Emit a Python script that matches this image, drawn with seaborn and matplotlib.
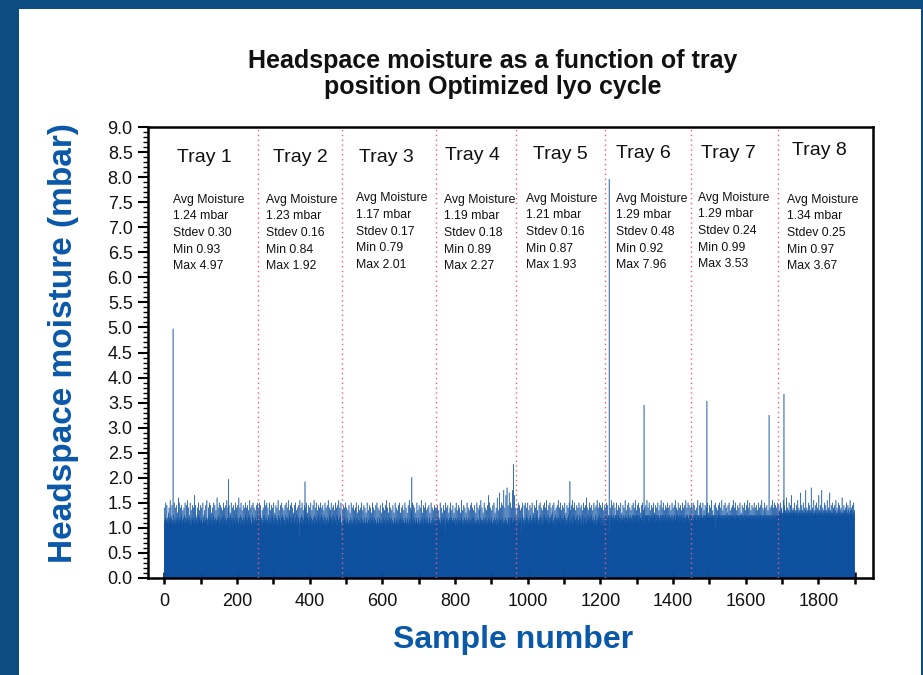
import pandas as pd
import seaborn as sns
import matplotlib.pyplot as plt
from matplotlib.patches import Rectangle
from matplotlib.ticker import MultipleLocator, FuncFormatter

# Per-sample moisture, one character per vial: value = 0.80 + 0.05 * position in CODE
CODE = "0123456789abcdefghijklmnopqrstuvwxyz"

tray1_codes = (
    "6c78e57d86 7a5c68f796 8d57b69e75 c687d5a86g 7e68c75d97 "
    "5b87c69e68 7d58f67c85 9e67b58d76 c86h57d968 7c59e68b76 "
    "d78c56e879 6b57d68f75 8c69e57d86 a75c98e67d 58b76g87c6 "
    "9e57d68c75 b86e97c58d 67f58c76d8 3a96e78c57 d86b75e96c "
    "78d56g87c5 9e68b75d86 c57e98c67d 58b96f87c6 5d79e68c75 "
    "b86d75e9"
)
tray2_codes = (
    "7c68e59d76 8b57c69f86 7d58e67c95 8e76b58d69 c75e86a97d "
    "68c57f96b8 75d68e79c5 8b67d59e86 c78f57b96d 85e68c79a6 "
    "d57e86b95c 78d61f87c6 9e58b76d87 c59e68a75d 86c97e58b6 "
    "7d86f59c78 e67b58d96c 75e89c68d5 7b96e58c76 d85f67c98b "
    "6e78c59d67 b86e75c98d 57f68c79e6"
)
tray3_codes = (
    "05b67d58c6 7e56c87b65 d76a58e67c 56d78b65c7 e58a67d56b "
    "76c58e67b5 6d87c56a78 e65b76d58c 67a58e76c5 8b67d56e78 "
    "c56b87d65a 76e58c67b5 d68f57c76a 58e67c85b6 7d56a87e65 "
    "c78b56d67e 58a76c58d6 7b56e87c65 a78d56f76c 58b67e56d8 "
    "7c56a87e65 b78d56c67f 58a76d58c6 7e56b87c65 d78a56e67c "
    "58b76d57c6"
)
tray4_codes = (
    "6c78d57b86 7e56c87a65 d78b52e67c 86d57a68c7 e58b76d68a "
    "76c58e67b5 8d67c56a78 f65b76d58c 67a58e76c5 8b67d56e78 "
    "c56b87d65a 76e58c67b5 d68f57c76a 58e67c85b6 7d56h87e65 "
    "c78b56d67e 58a76c58g6 7b56i87c65 e78d56j76c 58h67k56d8 "
    "7i58e67c86 j57d68h76c 9"
)
tray5_codes = (
    "71c68e57d6 8b72c69e86 7d58e67c95 8e76b58d69 c75e86a97d "
    "68c57f96b8 75d68e79c5 8b67d59e86 c78f57b96d 85e68c79a6 "
    "d57e86b95c 78d68f87c6 9e58b76d87 c59e68a75d 86c97e58b6 "
    "7d86f59c78 e67b58d96c 75e89c68d5 7b96e58c76 d85g67c98b "
    "6e78c59d67 b86e75c98d 57f68c79e6 8d57c86e75 b86d"
)
tray6_codes = (
    "8c97e68d79 8b29c78f97 8d69e78c97 9e87b69d78 c86e97a87d "
    "79c68f97b8 86d79e78c6 9b78d69e97 c89f68b97d 96e79c88a7 "
    "d68e97b96c 89d79f98c7 9e69b87d98 c69e79a86d 97c98e69b7 "
    "8d97f69c89 e78b69d97c 86e98c79d6 8b97e69c87 d96f78c99b "
    "7e89c69d78 b97e86c98d 68f79c89e7 8d69c97e"
)
tray7_codes = (
    "9c87e79d89 8b97c79f98 9d78e89c97 8e98b79d89 c97e88a98d "
    "89c78f98b9 97d89e49c7 8b89d79e98 c98f79b89d 97e89c98a8 "
    "d79e98b97c 89d89f87c9 8e79b98d89 c79e89a97d 98c89e79b8 "
    "9d88f79c98 e89b79d98c 97e89c98d7 9b98e79c89 d97f89c98b "
    "8e89c79d89 b98e97c89d 79f89c98e8 9d79c98e"
)
tray8_codes = (
    "a9dba8ea9c b9a4fa9bd9 ab9ga9cab9 ea9bda9hab 9cab9eaba9 "
    "dab9fa9cab 9iab9dab9e a9ca9bja9c ab9eab9dab 9kab9ca9fb "
    "a9dab9ea9c b9hab9da9b ja9cab9eab 9dab9fa9ca b9iab9da9e "
    "a9cb9dab9f a9ca9bea9d ab9ca9ga9b 9dab9ca9eb a9db9ca9fb "
    "a9cb9da9ea b"
)

# Tall individual vials (sample number, mbar)
spike_samples = [24, 177, 387, 681, 961, 1116, 1224, 1320, 1493, 1664, 1705]
spike_values = [4.97, 1.97, 1.92, 2.01, 2.27, 1.93, 7.96, 3.45, 3.53, 3.25, 3.67]

# Per-tray summary printed on the chart
tray_avg = [1.24, 1.23, 1.17, 1.19, 1.21, 1.29, 1.29, 1.34]
tray_sd = [0.30, 0.16, 0.17, 0.18, 0.16, 0.48, 0.24, 0.25]
tray_min = [0.93, 0.84, 0.79, 0.89, 0.87, 0.92, 0.99, 0.97]
tray_max = [4.97, 1.92, 2.01, 2.27, 1.93, 7.96, 3.53, 3.67]

# label placement (sample number / mbar)
tray_label_x = [110, 373, 610, 849, 1089, 1317, 1551, 1803]
tray_label_y = [8.40, 8.40, 8.40, 8.44, 8.46, 8.48, 8.48, 8.54]
stat_x = [23, 281, 527, 770, 995, 1242, 1469, 1713]
stat_y = [7.55, 7.55, 7.58, 7.55, 7.57, 7.57, 7.59, 7.55]

all_trays = [tray1_codes, tray2_codes, tray3_codes, tray4_codes,
             tray5_codes, tray6_codes, tray7_codes, tray8_codes]

moisture = []
boundaries = []
for codes in all_trays:
    moisture += [0.80 + 0.05 * CODE.index(c) for c in codes.replace(" ", "")]
    boundaries.append(len(moisture))
for s, v in zip(spike_samples, spike_values):
    moisture[s] = v

df = pd.DataFrame({"sample": range(len(moisture)), "moisture": moisture})

bar_color = "#0b4f9f"
label_blue = "#0a58a8"
frame_blue = "#0d4c80"

sns.set_theme(style="ticks")
plt.rcParams["font.family"] = ["Liberation Sans", "DejaVu Sans"]

fig = plt.figure(figsize=(9.23, 6.75), dpi=100, facecolor=frame_blue)
fig.patches.append(Rectangle((19 / 923, 0), 902 / 923, 1 - 9 / 675,
                             transform=fig.transFigure, facecolor="white",
                             edgecolor="none", zorder=-1))
ax = fig.add_axes([148 / 923, 1 - 578 / 675, 725 / 923, 451 / 675])
ax.set_facecolor("white")

sns.barplot(data=df, x="sample", y="moisture", native_scale=True, width=1,
            color=bar_color, saturation=1, errorbar=None,
            linewidth=0.25, edgecolor=bar_color, ax=ax)
# bars are thinner than a pixel: no snapping, so they blend instead of dropping out
for p in ax.patches:
    p.set_snap(False)

for b in boundaries[:-1]:
    ax.axvline(b - 0.5, color="#ef5b7a", lw=1.0, ls=(0, (1, 2.5)), zorder=3)

for i in range(8):
    ax.text(tray_label_x[i], tray_label_y[i], f"Tray {i + 1}",
            ha="center", va="center", fontsize=14, color="#111111")
    lines = ["Avg Moisture", f"{tray_avg[i]:.2f} mbar", f"Stdev {tray_sd[i]:.2f}",
             f"Min {tray_min[i]:.2f}", f"Max {tray_max[i]:.2f}"]
    for j, line in enumerate(lines):
        ax.text(stat_x[i], stat_y[i] - j * 0.333, line,
                ha="left", va="center", fontsize=8.8, color="#111111")

ax.set_xlim(-45, 1950)
ax.set_ylim(0, 9)
ax.xaxis.set_major_locator(MultipleLocator(200))
ax.xaxis.set_minor_locator(MultipleLocator(100))
ax.xaxis.set_major_formatter(FuncFormatter(lambda v, p: f"{v:.0f}"))
ax.yaxis.set_major_locator(MultipleLocator(0.5))
ax.yaxis.set_minor_locator(MultipleLocator(0.1))
ax.yaxis.set_major_formatter(FuncFormatter(lambda v, p: f"{v:.1f}"))
ax.tick_params(axis="x", which="both", direction="inout", length=9, width=1.8,
               pad=6, labelsize=13, color="black", labelcolor="#111111")
ax.tick_params(axis="y", which="major", direction="out", length=7, width=1.5,
               pad=4, labelsize=13, color="black", labelcolor="#111111")
ax.tick_params(axis="y", which="minor", direction="out", length=3.5, width=1.0,
               color="black")
for sp in ax.spines.values():
    sp.set_visible(True)
    sp.set_linewidth(1.8)
    sp.set_color("black")
ax.set_xlabel("")
ax.set_ylabel("")

fig.text(0.534, 0.89, "Headspace moisture as a function of tray\nposition Optimized lyo cycle",
         ha="center", va="center", fontsize=18, fontweight="bold",
         linespacing=1.1, color="#111111")
fig.text(64 / 923, 1 - 343 / 675, "Headspace moisture (mbar)", rotation=90,
         ha="center", va="center", fontsize=24, fontweight="bold",
         color=label_blue)
fig.text(513 / 923, 1 - 640 / 675, "Sample number",
         ha="center", va="center", fontsize=23, fontweight="bold",
         color=label_blue)

fig.savefig("out.png", dpi=100, facecolor=fig.get_facecolor())
